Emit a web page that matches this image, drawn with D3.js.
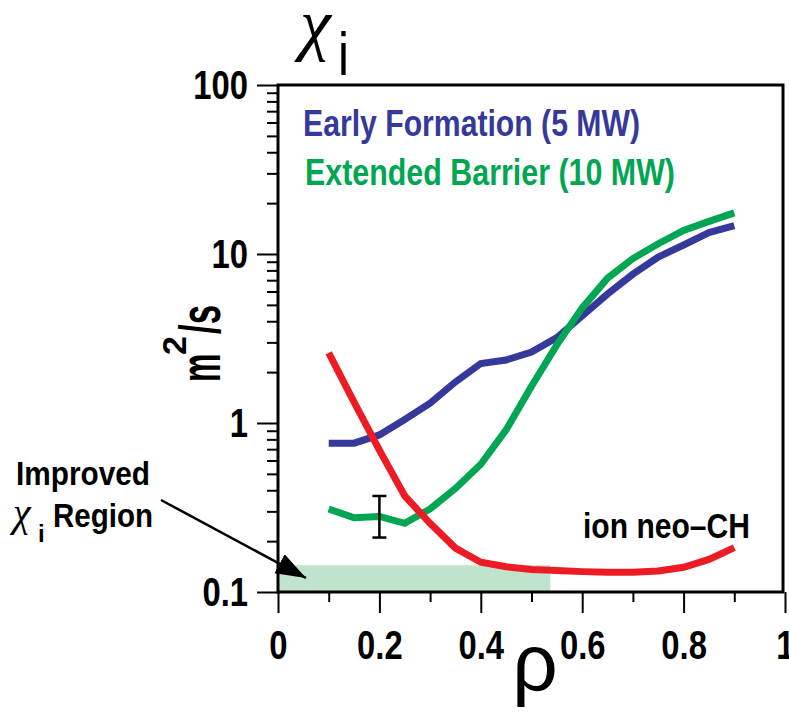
<!DOCTYPE html>
<html><head><meta charset="utf-8">
<script src="https://cdn.jsdelivr.net/npm/d3@7"></script>
<style>
html,body{margin:0;padding:0;background:#fff;}
svg{display:block;}
.nar{font-family:"Liberation Sans",Arial,sans-serif;font-weight:bold;}
</style></head>
<body><svg id="c" width="789" height="712"></svg>
<script>
// ---- data ----
const rho = [0.1,0.15,0.2,0.25,0.3,0.35,0.4,0.45,0.5,0.55,0.6,0.65,0.7,0.75,0.8,0.85,0.9];
const earlyFormation  = [0.76,0.76,0.85,1.05,1.31,1.75,2.25,2.36,2.63,3.2,4.3,5.8,7.6,9.6,11.3,13.4,14.7];
const extendedBarrier = [0.31,0.275,0.28,0.255,0.31,0.41,0.57,0.91,1.65,2.9,4.8,7.2,9.4,11.5,13.8,15.6,17.5];
const neoCH           = [2.6,1.33,0.69,0.37,0.255,0.182,0.15,0.141,0.136,0.134,0.132,0.131,0.131,0.133,0.14,0.156,0.183];
const errRho = [0.2];
const errLow = [0.21];
const errHigh = [0.37];
const regionRho = [0, 0.537];
const regionTop = [0.144];
const xTicks = [0,0.2,0.4,0.6,0.8,1];
const xMinor = [0.1,0.3,0.5,0.7,0.9];
const yTicks = [0.1,1,10,100];
const yTickLabels = ["0.1","1","10","100"];
const seriesNames = ["Early Formation (5 MW)","Extended Barrier (10 MW)"];
const colors = {blue:"#35399a", green:"#00a651", red:"#ed1c24", region:"#c0e3cc"};

const svg = d3.select("#c");
const x = d3.scaleLinear().domain([0,1]).range([278,785]);
const y = d3.scaleLog().domain([0.1,100]).range([592,85]);

function condense(sel, f) {
  sel.each(function() {
    const L = this.getComputedTextLength();
    d3.select(this).attr("textLength", L * f).attr("lengthAdjust","spacingAndGlyphs");
  });
}

// shaded region
svg.append("rect")
  .attr("x", x(regionRho[0])).attr("y", y(regionTop[0]))
  .attr("width", x(regionRho[1]) - x(regionRho[0]))
  .attr("height", y(0.1) - y(regionTop[0]))
  .attr("fill", colors.region);

// minor ticks
const yMinor = [];
[0.1,1,10].forEach(d => { for (let k=2;k<=9;k++) yMinor.push(d*k); });
const gyMin = svg.append("g").attr("transform","translate(278,0)")
  .call(d3.axisLeft(y).tickValues(yMinor).tickSize(11).tickFormat(""));
const gxMin = svg.append("g").attr("transform","translate(0,592)")
  .call(d3.axisBottom(x).tickValues(xMinor).tickSize(10).tickFormat(""));

// major axes
const gy = svg.append("g").attr("transform","translate(278,0)")
  .call(d3.axisLeft(y).tickValues(yTicks).tickSize(21).tickPadding(9)
    .tickFormat((d,i) => yTickLabels[i]));
const gx = svg.append("g").attr("transform","translate(0,592)")
  .call(d3.axisBottom(x).tickValues(xTicks).tickSize(21).tickPadding(17)
    .tickFormat(d => d === 0 ? "0" : d === 1 ? "1" : d3.format(".1f")(d)));

[gyMin,gxMin,gy,gx].forEach(g => {
  g.select(".domain").remove();
  g.selectAll(".tick line").attr("stroke","#000").attr("stroke-width",2);
});
[gy,gx].forEach(g => {
  g.selectAll("text").attr("font-family",null).attr("class","nar")
    .attr("font-size",41).attr("fill","#000");
  condense(g.selectAll("text"), 0.8);
});

// frame
svg.append("rect").attr("x",278).attr("y",85).attr("width",505).attr("height",507)
  .attr("fill","none").attr("stroke","#000").attr("stroke-width",3);

// lines
const line = d3.line().x((d,i) => x(rho[i])).y(d => y(d));
[[earlyFormation,colors.blue],[extendedBarrier,colors.green],[neoCH,colors.red]].forEach(([s,c]) => {
  svg.append("path").datum(s).attr("d",line).attr("fill","none")
    .attr("stroke",c).attr("stroke-width",7).attr("stroke-linejoin","miter");
});

// error bar
errRho.forEach((r,i) => {
  const g = svg.append("g").attr("stroke","#000").attr("stroke-width",2.5);
  g.append("line").attr("x1",x(r)).attr("x2",x(r)).attr("y1",y(errLow[i])).attr("y2",y(errHigh[i]));
  g.append("line").attr("x1",x(r)-7).attr("x2",x(r)+7).attr("y1",y(errLow[i])).attr("y2",y(errLow[i]));
  g.append("line").attr("x1",x(r)-7).attr("x2",x(r)+7).attr("y1",y(errHigh[i])).attr("y2",y(errHigh[i]));
});

// legend text
const l1 = svg.append("text").attr("class","nar").attr("x",303).attr("y",136).attr("font-size",37)
  .attr("fill",colors.blue).text(seriesNames[0]);
const l2 = svg.append("text").attr("class","nar").attr("x",305).attr("y",185).attr("font-size",37)
  .attr("fill",colors.green).text(seriesNames[1]);
const l3 = svg.append("text").attr("class","nar").attr("x",583).attr("y",538).attr("font-size",35)
  .attr("fill","#000").text("ion neo\u2013CH");
l1.attr("textLength",337).attr("lengthAdjust","spacingAndGlyphs");
l2.attr("textLength",370).attr("lengthAdjust","spacingAndGlyphs");
l3.attr("textLength",167).attr("lengthAdjust","spacingAndGlyphs");

// improved region label + arrow
svg.append("defs").append("marker").attr("id","ah").attr("viewBox","0 0 14 10")
  .attr("refX",14).attr("refY",5).attr("markerWidth",30).attr("markerHeight",22)
  .attr("markerUnits","userSpaceOnUse").attr("orient","auto")
  .append("path").attr("d","M0,0L14,5L0,10Z").attr("fill","#000");
svg.append("line").attr("x1",161).attr("y1",500).attr("x2",306).attr("y2",578)
  .attr("stroke","#000").attr("stroke-width",2.5).attr("marker-end","url(#ah)");
svg.append("text").attr("class","nar").attr("x",16).attr("y",485).attr("font-size",34)
  .attr("fill","#000").attr("textLength",134).attr("lengthAdjust","spacingAndGlyphs").text("Improved");
svg.append("text").attr("x",13).attr("y",526).attr("fill","#000")
  .attr("font-family","Liberation Serif, serif").attr("font-style","italic")
  .attr("font-size",40).text("\u03c7");
svg.append("text").attr("class","nar").attr("x",38).attr("y",542).attr("font-size",24)
  .attr("fill","#000").text("i");
svg.append("text").attr("class","nar").attr("x",53).attr("y",527).attr("font-size",34)
  .attr("fill","#000").attr("textLength",100).attr("lengthAdjust","spacingAndGlyphs").text("Region");

// title chi_i
svg.append("text").attr("x",300).attr("y",47).attr("fill","#000")
  .attr("font-family","Liberation Serif, serif").attr("font-style","italic")
  .attr("font-size",70).text("\u03c7");
svg.append("text").attr("x",338).attr("y",75).attr("fill","#000")
  .attr("font-family","Liberation Sans, sans-serif").attr("font-size",62)
  .attr("textLength",11).attr("lengthAdjust","spacingAndGlyphs").text("i");

// x label rho
svg.append("text").attr("x",535).attr("y",690).attr("text-anchor","middle")
  .attr("font-family","Liberation Sans, Arial, sans-serif").attr("font-size",80)
  .attr("fill","#000").text("\u03c1");

// y label m^2/s
svg.append("text").attr("transform","translate(220,382) rotate(-90) scale(0.55,1)")
  .attr("font-family","Liberation Sans, Arial, sans-serif").attr("font-weight","bold")
  .attr("font-size",58).attr("fill","#000").text("m");
svg.append("text").attr("transform","translate(186,355) rotate(-90)")
  .attr("font-family","Liberation Sans, Arial, sans-serif").attr("font-weight","bold")
  .attr("font-size",34).attr("fill","#000").text("2");
svg.append("text").attr("transform","translate(220,334) rotate(-90) scale(0.6,1)")
  .attr("font-family","Liberation Sans, Arial, sans-serif").attr("font-weight","bold")
  .attr("font-size",58).attr("fill","#000").text("/s");
</script></body></html>
